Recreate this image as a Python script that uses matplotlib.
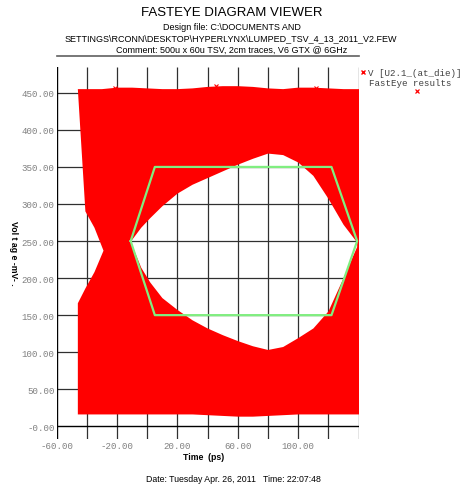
import matplotlib
matplotlib.use('Agg')
import matplotlib.pyplot as plt
from matplotlib.path import Path
from matplotlib.patches import PathPatch
from matplotlib.lines import Line2D
import numpy as np

# outer envelope of the eye traces (ps / mV)
env_x = [-46, -30, -20, -10, 0, 10, 20, 30, 40, 50, 60, 70, 80, 90, 100, 110, 120, 130, 141]
env_top = [455, 455, 457, 457, 456, 455, 455, 456, 458, 459, 459, 458, 456, 455, 457, 457, 456, 455, 455]
env_bot = [16, 16, 16, 16, 16, 16, 16, 16, 15, 14, 13, 13, 14, 15, 16, 16, 16, 16, 16]

# left half-eye notch (bottom to top)
notch_x = [-46, -41, -35, -29, -35, -41, -46]
notch_y = [166, 186, 208, 237, 268, 290, 308]

# main eye opening
eye_x = [-11, -4, 2, 10, 20, 30, 40, 50, 60, 70, 80, 90, 100, 110, 120, 130, 136, 139]
eye_top = [250, 268, 281, 297, 314, 326, 335, 344, 353, 361, 368, 366, 356, 338, 307, 272, 256, 248]
eye_bot = [249, 214, 194, 173, 157, 143, 132, 123, 115, 108, 103, 107, 119, 132, 155, 200, 228, 242]

# eye mask
hex_x = [-11, 5, 122, 139, 122, 5, -11]
hex_y = [250, 350, 350, 250, 150, 150, 250]

# trace markers
mark_x = [-21.4, 45.3, 112.0]
mark_y = [457, 459, 457]

grid_x = [-40, -20, 0, 20, 40, 60, 80, 100, 120, 140]
grid_y = [50, 100, 150, 200, 250, 300, 350, 400, 450]
xticks = [-60, -20, 20, 60, 100]
yticks = [0, 50, 100, 150, 200, 250, 300, 350, 400, 450]

plt.rcParams['font.family'] = 'Liberation Sans'

fig = plt.figure(figsize=(4.61, 4.85), dpi=100)
ax = fig.add_axes([0.123, 0.093, 0.655, 0.767])
ax.set_xlim(-60, 140)
ax.set_ylim(-17, 485)
for s in ax.spines.values():
    s.set_visible(False)

ax.vlines(grid_x, -17, 485, color='#303030', lw=0.9, zorder=1)
ax.hlines(grid_y, -60, 140, color='#303030', lw=0.9, zorder=1)
ax.axvline(-60, color='black', lw=1.0, zorder=1)
ax.axhline(0, color='black', lw=1.0, zorder=1)

# red eye with holes
outer = list(zip(env_x, env_top)) + list(zip(env_x[::-1], env_bot[::-1])) + list(zip(notch_x, notch_y))
hole = list(zip(eye_x, eye_bot)) + list(zip(eye_x[::-1], eye_top[::-1]))
path = Path.make_compound_path(Path(outer, closed=True), Path(hole, closed=True))
ax.add_patch(PathPatch(path, facecolor='#ff0000', edgecolor='none', zorder=2))

ax.plot(mark_x, mark_y, 'x', color='red', ms=3, mew=0.8, zorder=3)
ax.plot(hex_x, hex_y, color='#80ee80', lw=1.6, zorder=4)

mono = {'family': 'Liberation Mono', 'size': 6.6}
ax.set_xticks(xticks)
ax.set_xticklabels([f'{v:.2f}' for v in xticks], fontdict=mono, color='#808080')
ax.set_yticks(yticks)
ax.set_yticklabels(['-0.00' if v == 0 else f'{v:.2f}' for v in yticks], fontdict=mono, color='#808080')
ax.tick_params(length=0, pad=1.5)

fig.text(13 / 461, 1 - 253 / 485, 'Vol t ag e -mV- .', rotation=270, ha='center', va='center',
         fontsize=6.3, fontweight='bold')
fig.text(204 / 461, 1 - 458 / 485, 'Time  (ps)', ha='center', va='center', fontsize=6.3, fontweight='bold')
fig.text(233 / 461, 1 - 480 / 485, 'Date: Tuesday Apr. 26, 2011   Time: 22:07:48', ha='center', va='center',
         fontsize=6.3)

fig.text(232 / 461, 1 - 13 / 485, 'FASTEYE DIAGRAM VIEWER', ha='center', va='center', fontsize=9.5)
fig.text(232 / 461, 1 - 27 / 485, 'Design file: C:\\DOCUMENTS AND', ha='center', va='center', fontsize=6.5)
fig.text(231 / 461, 1 - 39 / 485, 'SETTINGS\\RCONN\\DESKTOP\\HYPERLYNX\\LUMPED_TSV_4_13_2011_V2.FEW',
         ha='center', va='center', fontsize=6.5)
fig.text(232 / 461, 1 - 50 / 485, 'Comment: 500u x 60u TSV, 2cm traces, V6 GTX @ 6GHz', ha='center',
         va='center', fontsize=6.5)
fig.add_artist(Line2D([57 / 461, 359 / 461], [1 - 56.7 / 485] * 2, color='#606060', lw=1.2))

# legend
fig.add_artist(Line2D([363 / 461], [1 - 73 / 485], marker='x', color='red', ms=3.5, mew=1.0, ls='none'))
fig.text(368 / 461, 1 - 73 / 485, 'V [U2.1_(at_die)]', ha='left', va='center', color='#404040', **mono)
fig.text(369 / 461, 1 - 83 / 485, 'FastEye results', ha='left', va='center', color='#404040', **mono)
fig.add_artist(Line2D([417 / 461], [1 - 92 / 485], marker='x', color='red', ms=3, mew=0.9, ls='none'))

fig.savefig('out.png', dpi=100)
